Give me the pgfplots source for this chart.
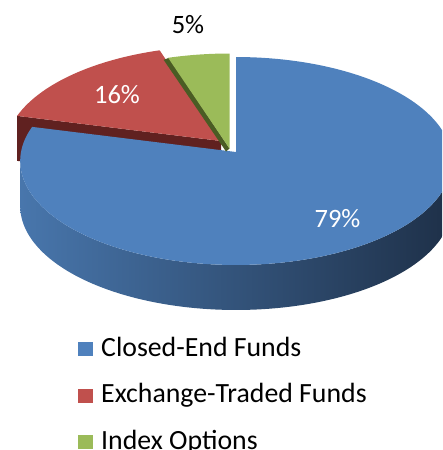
\documentclass[border=0pt]{standalone}
\usepackage{fontspec}
\setmainfont{Carlito}
\usepackage{pgfplots}
\pgfplotsset{compat=1.18}
\definecolor{cBlue}{RGB}{79,129,189}
\definecolor{cRed}{RGB}{192,80,77}
\definecolor{cGreen}{RGB}{155,187,89}
\definecolor{cRedSide}{RGB}{96,33,32}
\definecolor{cGreenSide}{RGB}{74,92,36}
\definecolor{wallL}{RGB}{72,118,172}
\definecolor{wallM}{RGB}{48,80,122}
\definecolor{wallR}{RGB}{30,48,72}
% shares (percent)
\def\pBlue{79}\def\pRed{16}\def\pGreen{5}
\begin{document}
\begin{tikzpicture}
\pgfmathsetmacro{\aBR}{90-3.6*\pBlue+360}   % blue/red boundary
\pgfmathsetmacro{\aRG}{\aBR-3.6*\pRed}      % red/green boundary
\pgfmathsetmacro{\aB}{\aBR-360}
% geometry helpers
\pgfmathsetmacro{\rbx}{236+215*cos(\aBR)/(1+0.0865*sin(\aBR))}
\pgfmathsetmacro{\rby}{152-103.2*sin(\aBR)/(1+0.0865*sin(\aBR))}
\pgfmathsetmacro{\rgx}{236+215*cos(\aRG)/(1+0.0865*sin(\aRG))}
\pgfmathsetmacro{\rgy}{152-103.2*sin(\aRG)/(1+0.0865*sin(\aRG))}
\begin{axis}[
  width=442pt, height=450pt, scale only axis,
  xmin=0, xmax=442, ymin=0, ymax=450, y dir=reverse,
  hide axis,
  declare function={
    ex(\t)=236+215*cos(\t)/(1+0.0865*sin(\t));
    ey(\t)=152-103.2*sin(\t)/(1+0.0865*sin(\t));
    wt(\s)=(\s<=1) ? (185+170*\s) : (355-170*(\s-1));
    wd(\s)=(\s<=1) ? 0 : 45;
  },
  legend image code/.code={\fill[#1] (0pt,-6pt) rectangle (15pt,8pt);},
  legend cell align=left,
  legend style={at={(axis cs:78,338)}, anchor=north west, draw=none, fill=none,
    inner xsep=0pt, inner ysep=0pt, row sep=22.5pt,
    nodes={inner sep=0pt, text height=18pt, text depth=6pt, font=\fontsize{27.8}{30}\selectfont},
    /tikz/every odd column/.append style={column sep=8pt}},
]
% red radial side face
\addplot[forget plot, fill=cRedSide, draw=none] coordinates {(221,141) ({\rbx-15},{\rby-11}) ({\rbx-15},{\rby+34}) (221,186)} -- cycle;
% blue outer wall
\addplot[forget plot, draw=none, left color=wallL, middle color=wallM, right color=wallR,
  domain=0:2, samples=341, variable=\s] ({ex(wt(\s))},{ey(wt(\s))+wd(\s)}) -- cycle;
% blue top
\addplot[forget plot, fill=cBlue, draw=none, domain=\aB:90, samples=200, variable=\t]
  ({ex(\t)},{ey(\t)}) -- (axis cs:236,152) -- cycle;
% red top (exploded)
\addplot[forget plot, fill=cRed, draw=none, domain=\aRG:\aBR, samples=60, variable=\t]
  ({ex(\t)-15},{ey(\t)-11}) -- (axis cs:221,141) -- cycle;
% green radial side face (visible strip)
\addplot[forget plot, fill=cGreenSide, draw=none] coordinates {(229.5,148.5) ({\rgx-5.5},{\rgy-3.5}) ({\rgx-11},{\rgy-1.5}) (226,151.5)} -- cycle;
% green top (exploded)
\addplot[forget plot, fill=cGreen, draw=none, domain=90:\aRG, samples=30, variable=\t]
  ({ex(\t)-6.5},{ey(\t)-3.5}) -- (axis cs:229.5,148.5) -- cycle;
% labels
\node[anchor=base, font=\fontsize{26.5}{26}\selectfont, text=black] at (axis cs:188,33) {5\%};
\node[anchor=base, font=\fontsize{26.5}{26}\selectfont, text=white] at (axis cs:117,103) {16\%};
\node[anchor=base, font=\fontsize{26.5}{26}\selectfont, text=white] at (axis cs:337.5,227) {79\%};
% legend
\addlegendimage{fill=cBlue, draw=none}
\addlegendentry{Closed-End Funds}
\addlegendimage{fill=cRed, draw=none}
\addlegendentry{Exchange-Traded Funds}
\addlegendimage{fill=cGreen, draw=none}
\addlegendentry{Index Options}
\end{axis}
\pgfresetboundingbox
\path[use as bounding box] (current axis.south west) rectangle (current axis.north east);
\end{tikzpicture}
\end{document}
